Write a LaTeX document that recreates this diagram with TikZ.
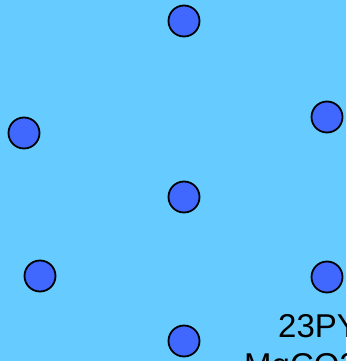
\documentclass[tikz,border=0pt]{standalone}
\usepackage{fontspec}
\setmainfont{Liberation Sans}
\definecolor{bgblue}{RGB}{102,204,255}
\definecolor{dotblue}{RGB}{64,104,255}
\begin{document}
\begin{tikzpicture}[x=1pt,y=-1pt,
  dot/.style={circle,draw=black,line width=1.8pt,fill=dotblue,minimum size=31pt,inner sep=0pt},
  lbl/.style={anchor=base west,inner sep=0pt,font=\fontsize{33}{38}\selectfont}]
\useasboundingbox (0,0) rectangle (346,361);
\fill[bgblue] (0,0) rectangle (346,361);
\node[dot] (top) at (184,21) {};
\node[dot] (left) at (24,133) {};
\node[dot] (right) at (327,117) {};
\node[dot] (mid) at (184,197) {};
\node[dot] (ll) at (40,276) {};
\node[dot] (lr) at (327,277) {};
\node[dot] (bot) at (184,341) {};
\node[lbl] (t1) at (278,337) {23PY};
\node[lbl] (t2) at (244,376) {MgCO3};
\end{tikzpicture}
\end{document}
